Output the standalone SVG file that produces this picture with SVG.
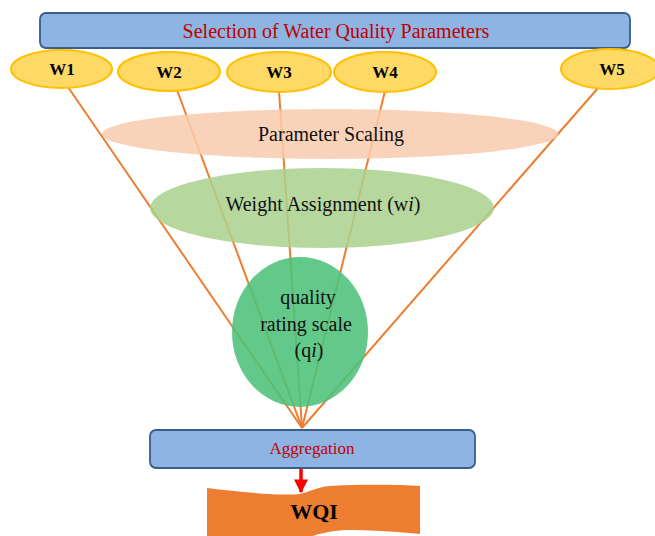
<svg xmlns="http://www.w3.org/2000/svg" width="655" height="536" viewBox="0 0 655 536">
  <defs>
    <marker id="redArrow" viewBox="0 0 10 10" refX="9" refY="5" markerWidth="4" markerHeight="4" orient="auto">
      <path d="M0,0 L10,5 L0,10 Z" fill="#ff0000"/>
    </marker>
  </defs>
  <style>
    .bar { fill: #8db4e2; stroke: #385d8a; stroke-width: 1.8; }
    .wnode { fill: #ffd966; stroke: #ffc000; stroke-width: 2; }
    .wlabel { font-family: "Liberation Serif", "Times New Roman", serif; font-weight: bold; font-size: 17px; fill: #000; text-anchor: middle; }
    .redtext { font-family: "Liberation Serif", "Times New Roman", serif; fill: #c00000; text-anchor: middle; }
    .body { font-family: "Liberation Serif", "Times New Roman", serif; font-size: 20px; fill: #111; text-anchor: middle; }
    .link { stroke: #ed7d31; stroke-width: 2; fill: none; }
  </style>
  <rect width="655" height="536" fill="#ffffff"/>

  <!-- connectors from each parameter weight down to the aggregation point -->
  <g id="connectors">
    <line class="link" x1="68" y1="87" x2="302" y2="428"/>
    <line class="link" x1="177" y1="90" x2="302" y2="428"/>
    <line class="link" x1="279" y1="91" x2="302" y2="428"/>
    <line class="link" x1="385" y1="91" x2="302" y2="428"/>
    <line class="link" x1="598" y1="88" x2="302" y2="428"/>
    <line x1="301" y1="468" x2="301" y2="492" stroke="#ff0000" stroke-width="3.5" marker-end="url(#redArrow)"/>
  </g>

  <g id="selection">
    <rect class="bar" x="40" y="13" width="590" height="35" rx="6"/>
    <text class="redtext" x="336" y="38" font-size="20">Selection of Water Quality Parameters</text>
  </g>

  <g id="w1">
    <ellipse class="wnode" cx="61.5" cy="69" rx="50.5" ry="19"/>
    <text class="wlabel" x="62" y="75">W1</text>
  </g>
  <g id="w2">
    <ellipse class="wnode" cx="169" cy="71.5" rx="51" ry="19.5"/>
    <text class="wlabel" x="169" y="78">W2</text>
  </g>
  <g id="w3">
    <ellipse class="wnode" cx="279" cy="72" rx="52" ry="20"/>
    <text class="wlabel" x="279" y="78">W3</text>
  </g>
  <g id="w4">
    <ellipse class="wnode" cx="385" cy="72" rx="51" ry="20"/>
    <text class="wlabel" x="385" y="78">W4</text>
  </g>
  <g id="w5">
    <ellipse class="wnode" cx="610" cy="69" rx="49" ry="20"/>
    <text class="wlabel" x="612" y="75">W5</text>
  </g>

  <g id="scaling">
    <ellipse cx="330" cy="134" rx="228" ry="25" fill="#f8cbad" opacity="0.85"/>
    <text class="body" x="331" y="141">Parameter Scaling</text>
  </g>

  <g id="weighting">
    <ellipse cx="322" cy="208" rx="172" ry="40" fill="#a9d18e" opacity="0.85"/>
    <text class="body" x="323" y="211">Weight Assignment (w<tspan font-style="italic">i</tspan>)</text>
  </g>

  <g id="rating">
    <ellipse cx="300" cy="332" rx="68" ry="75" fill="#4cc27a" opacity="0.88"/>
    <text class="body" x="308" y="304">quality</text>
    <text class="body" x="306" y="331">rating scale</text>
    <text class="body" x="309" y="357">(q<tspan font-style="italic">i</tspan>)</text>
  </g>

  <g id="aggregation">
    <rect class="bar" x="150" y="430" width="325" height="38" rx="6"/>
    <text class="redtext" x="312" y="454" font-size="17">Aggregation</text>
  </g>

  <g id="wqi">
    <path d="M207,488 C240,492 280,496 300,494 C310,492 316,487 330,486 C370,484 400,485 420,486 L420,534 C400,532 370,530 345,530 C330,531 318,534 313,536 L207,536 Z" fill="#ed7d31"/>
    <text x="314" y="519" font-family="Liberation Serif, 'Times New Roman', serif" font-weight="bold" font-size="22" fill="#000" text-anchor="middle">WQI</text>
  </g>
</svg>
